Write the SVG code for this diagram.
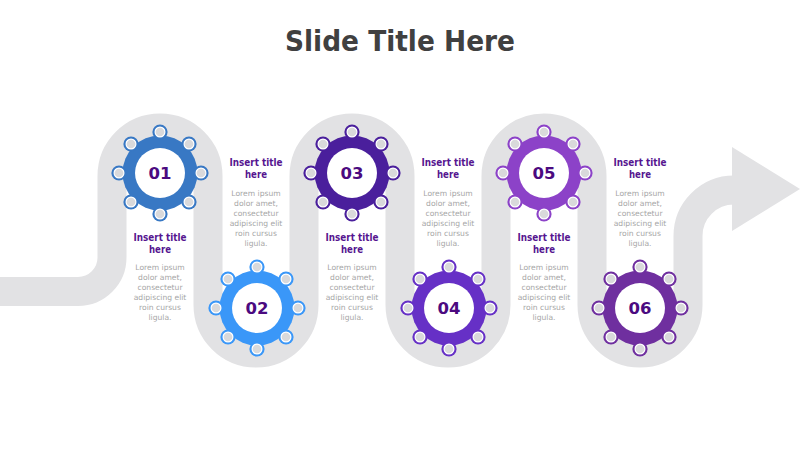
<svg xmlns="http://www.w3.org/2000/svg" xmlns:xlink="http://www.w3.org/1999/xlink" width="800" height="450" viewBox="0 0 800 450">
<style>
.title{font-family:"DejaVu Sans",Verdana,sans-serif;font-weight:bold;font-size:29px;fill:#404040;text-anchor:middle}
.num{font-family:"DejaVu Sans",Verdana,sans-serif;font-weight:bold;font-size:16.5px;fill:#4b0a80;text-anchor:middle}
.lt{font-family:"DejaVu Sans",Verdana,sans-serif;font-weight:bold;font-size:10.5px;fill:#561590;text-anchor:middle}
.bd{font-family:"DejaVu Sans",Verdana,sans-serif;font-size:7.6px;fill:#a6a6a6;text-anchor:middle}
.band{fill:none;stroke:#e2e2e4;stroke-width:29}
.kn{fill:currentColor}
.ki{fill:#d9d9db;stroke:#ffffff;stroke-width:1.2}
</style>
<defs>
<g id="gear">
<circle r="37.5" fill="currentColor"/>
<circle r="25" fill="#ffffff"/>
<circle class="kn" cx="0" cy="-41" r="7.6"/><circle class="ki" cx="0" cy="-41" r="4.9"/>
<circle class="kn" cx="29" cy="-29" r="7.6"/><circle class="ki" cx="29" cy="-29" r="4.9"/>
<circle class="kn" cx="41" cy="0" r="7.6"/><circle class="ki" cx="41" cy="0" r="4.9"/>
<circle class="kn" cx="29" cy="29" r="7.6"/><circle class="ki" cx="29" cy="29" r="4.9"/>
<circle class="kn" cx="0" cy="41" r="7.6"/><circle class="ki" cx="0" cy="41" r="4.9"/>
<circle class="kn" cx="-29" cy="29" r="7.6"/><circle class="ki" cx="-29" cy="29" r="4.9"/>
<circle class="kn" cx="-41" cy="0" r="7.6"/><circle class="ki" cx="-41" cy="0" r="4.9"/>
<circle class="kn" cx="-29" cy="-29" r="7.6"/><circle class="ki" cx="-29" cy="-29" r="4.9"/>
</g>
</defs>
<rect width="800" height="450" fill="#ffffff"/>
<text class="title" x="400" y="51" textLength="230" lengthAdjust="spacingAndGlyphs">Slide Title Here</text>
<g id="connectors">
<path class="band" d="M 0 291.5 H 78 A 34 34 0 0 0 112 257.5 V 176 A 48 48 0 0 1 208 176 V 305 A 48 48 0 0 0 304 305 V 176 A 48 48 0 0 1 400 176 V 305 A 48 48 0 0 0 496 305 V 176 A 48 48 0 0 1 592 176 V 305 A 48 48 0 0 0 688 305 V 236 A 46 46 0 0 1 734 190 H 740"/>
<polygon points="732,147 800,189 732,231" fill="#e2e2e4"/>
</g>
<g id="node-1">
<use xlink:href="#gear" href="#gear" x="160" y="173" color="#3878c4"/>
<text class="num" x="160" y="179">01</text>
<text class="lt" x="160" y="241" textLength="53" lengthAdjust="spacingAndGlyphs">Insert title</text>
<text class="lt" x="160" y="253" textLength="22" lengthAdjust="spacingAndGlyphs">here</text>
<text class="bd" x="160" y="270">Lorem ipsum</text>
<text class="bd" x="160" y="280">dolor amet,</text>
<text class="bd" x="160" y="290">consectetur</text>
<text class="bd" x="160" y="300">adipiscing elit</text>
<text class="bd" x="160" y="310">roin cursus</text>
<text class="bd" x="160" y="320">ligula.</text>
</g>
<g id="node-2">
<use xlink:href="#gear" href="#gear" x="257" y="308" color="#3a97f8"/>
<text class="num" x="257" y="314">02</text>
<text class="lt" x="256" y="166" textLength="53" lengthAdjust="spacingAndGlyphs">Insert title</text>
<text class="lt" x="256" y="178" textLength="22" lengthAdjust="spacingAndGlyphs">here</text>
<text class="bd" x="256" y="196">Lorem ipsum</text>
<text class="bd" x="256" y="206">dolor amet,</text>
<text class="bd" x="256" y="216">consectetur</text>
<text class="bd" x="256" y="226">adipiscing elit</text>
<text class="bd" x="256" y="236">roin cursus</text>
<text class="bd" x="256" y="246">ligula.</text>
</g>
<g id="node-3">
<use xlink:href="#gear" href="#gear" x="352" y="173" color="#4a1f9c"/>
<text class="num" x="352" y="179">03</text>
<text class="lt" x="352" y="241" textLength="53" lengthAdjust="spacingAndGlyphs">Insert title</text>
<text class="lt" x="352" y="253" textLength="22" lengthAdjust="spacingAndGlyphs">here</text>
<text class="bd" x="352" y="270">Lorem ipsum</text>
<text class="bd" x="352" y="280">dolor amet,</text>
<text class="bd" x="352" y="290">consectetur</text>
<text class="bd" x="352" y="300">adipiscing elit</text>
<text class="bd" x="352" y="310">roin cursus</text>
<text class="bd" x="352" y="320">ligula.</text>
</g>
<g id="node-4">
<use xlink:href="#gear" href="#gear" x="449" y="308" color="#6630c6"/>
<text class="num" x="449" y="314">04</text>
<text class="lt" x="448" y="166" textLength="53" lengthAdjust="spacingAndGlyphs">Insert title</text>
<text class="lt" x="448" y="178" textLength="22" lengthAdjust="spacingAndGlyphs">here</text>
<text class="bd" x="448" y="196">Lorem ipsum</text>
<text class="bd" x="448" y="206">dolor amet,</text>
<text class="bd" x="448" y="216">consectetur</text>
<text class="bd" x="448" y="226">adipiscing elit</text>
<text class="bd" x="448" y="236">roin cursus</text>
<text class="bd" x="448" y="246">ligula.</text>
</g>
<g id="node-5">
<use xlink:href="#gear" href="#gear" x="544" y="173" color="#8c42c8"/>
<text class="num" x="544" y="179">05</text>
<text class="lt" x="544" y="241" textLength="53" lengthAdjust="spacingAndGlyphs">Insert title</text>
<text class="lt" x="544" y="253" textLength="22" lengthAdjust="spacingAndGlyphs">here</text>
<text class="bd" x="544" y="270">Lorem ipsum</text>
<text class="bd" x="544" y="280">dolor amet,</text>
<text class="bd" x="544" y="290">consectetur</text>
<text class="bd" x="544" y="300">adipiscing elit</text>
<text class="bd" x="544" y="310">roin cursus</text>
<text class="bd" x="544" y="320">ligula.</text>
</g>
<g id="node-6">
<use xlink:href="#gear" href="#gear" x="640" y="308" color="#6f2f9f"/>
<text class="num" x="640" y="314">06</text>
<text class="lt" x="640" y="166" textLength="53" lengthAdjust="spacingAndGlyphs">Insert title</text>
<text class="lt" x="640" y="178" textLength="22" lengthAdjust="spacingAndGlyphs">here</text>
<text class="bd" x="640" y="196">Lorem ipsum</text>
<text class="bd" x="640" y="206">dolor amet,</text>
<text class="bd" x="640" y="216">consectetur</text>
<text class="bd" x="640" y="226">adipiscing elit</text>
<text class="bd" x="640" y="236">roin cursus</text>
<text class="bd" x="640" y="246">ligula.</text>
</g>
</svg>
